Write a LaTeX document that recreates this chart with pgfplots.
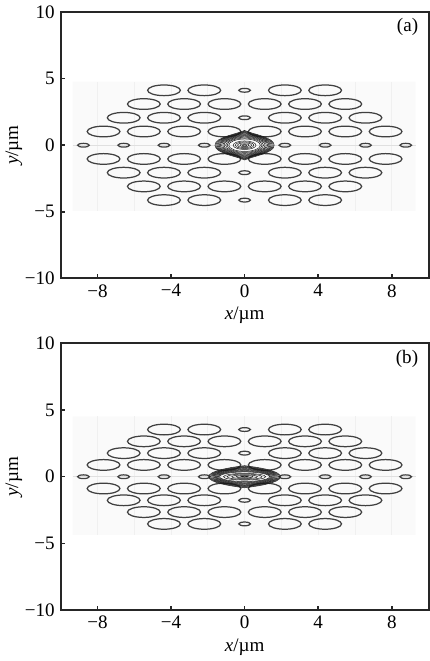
\documentclass[border=0pt]{standalone}
\usepackage{fontspec}
\setmainfont{Liberation Serif}
\usepackage{pgfplots}
\usepackage{pgfplotstable}
\pgfplotsset{compat=1.18}

% axis units in pt (axis is 222pt x 160.8pt for 20 x 20 um)
\def\xu{11.1pt}
\def\yu{8.04pt}

\pgfdeclareplotmark{bighole}{%
  \pgfpathellipse{\pgfpointorigin}{\pgfpoint{0.89*\xu}{0pt}}{\pgfpoint{0pt}{0.40*\yu}}%
  \pgfusepath{stroke}}
\pgfdeclareplotmark{smallhole}{%
  \pgfpathellipse{\pgfpointorigin}{\pgfpoint{0.315*\xu}{0pt}}{\pgfpoint{0pt}{0.14*\yu}}%
  \pgfusepath{stroke}}
% one contour line of the mode: half widths \ra, \rb (um), pointiness \rp
\pgfdeclareplotmark{cont}{%
  \pgfmathsetlengthmacro\cA{\ra*\xu}%
  \pgfmathsetlengthmacro\cB{\rb*\yu}%
  \pgfmathsetlengthmacro\cC{\ra*\xu*(0.552-0.3*\rp)}%
  \pgfmathsetlengthmacro\cD{\rb*\yu*(1-0.25*\rp)}%
  \pgfmathsetlengthmacro\cE{\rb*\yu*0.552}%
  \pgfpathmoveto{\pgfqpoint{\cA}{0pt}}%
  \pgfpathcurveto{\pgfqpoint{\cA}{\cE}}{\pgfqpoint{\cC}{\cD}}{\pgfqpoint{0pt}{\cB}}%
  \pgfpathcurveto{\pgfqpoint{-\cC}{\cD}}{\pgfqpoint{-\cA}{\cE}}{\pgfqpoint{-\cA}{0pt}}%
  \pgfpathcurveto{\pgfqpoint{-\cA}{-\cE}}{\pgfqpoint{-\cC}{-\cD}}{\pgfqpoint{0pt}{-\cB}}%
  \pgfpathcurveto{\pgfqpoint{\cC}{-\cD}}{\pgfqpoint{\cA}{-\cE}}{\pgfqpoint{\cA}{0pt}}%
  \pgfpathclose\pgfusepath{stroke}}

\pgfplotstableread{
x y a b p
0 0 0.12 0.05 0
0 0 0.25 0.11 0
0 0 0.38 0.18 0
0 0 0.50 0.25 0
0 0 0.62 0.32 0
0 0 0.86 0.47 0.05
0 0 0.95 0.54 0.1
0 0 1.03 0.61 0.2
0 0 1.11 0.68 0.3
0 0 1.18 0.74 0.4
0 0 1.25 0.80 0.5
0 0 1.32 0.86 0.6
0 0 1.38 0.92 0.7
0 0 1.44 0.97 0.8
0 0 1.50 1.02 0.9
0 0 1.56 1.07 1.0
0 0 1.61 1.11 1.0
}\modea

\pgfplotstableread{
x y a b p
0 0 0.20 0.04 0
0 0 0.45 0.09 0
0 0 0.70 0.14 0
0 0 0.95 0.20 0
0 0 1.15 0.25 0
0 0 1.36 0.36 0.05
0 0 1.42 0.41 0.1
0 0 1.48 0.46 0.15
0 0 1.54 0.51 0.2
0 0 1.60 0.56 0.3
0 0 1.66 0.61 0.35
0 0 1.72 0.66 0.4
0 0 1.78 0.70 0.5
0 0 1.84 0.74 0.55
0 0 1.90 0.79 0.6
0 0 1.95 0.83 0.6
}\modeb

\pgfplotsset{
  fibre/.style={
    width=222pt, height=160.8pt, scale only axis,
    xmin=-10, xmax=10, ymin=-10, ymax=10,
    xtick={-8,-4,0,4,8}, xticklabels={−8,−4,0,4,8},
    ytick={-10,-5,0,5,10}, yticklabels={−10,−5,0,5,10},
    tick align=inside, xtick pos=bottom, ytick pos=left,
    major tick length=2.5pt,
    axis line style={line width=1.2pt, black!85},
    tick style={line width=0.9pt, black!85},
    ticklabel style={font=\fontsize{11.5}{13}\selectfont},
    label style={font=\fontsize{11.5}{13}\selectfont},
    xlabel={{\itshape x}/µm}, ylabel={{\itshape y}/µm},
    xlabel style={at={(axis description cs:0.5,0)}, anchor=base, yshift=-25pt},
    ylabel style={at={(axis description cs:-0.127,0.5)}, anchor=center},
    clip=false,
  },
  holes/.style={only marks, draw=black!75, line width=0.75pt},
  mode/.style={scatter, only marks, mark=cont, line width=0.3pt,
    scatter/use mapped color={draw=black!90},
    point meta min=0, point meta max=1,
    visualization depends on={\thisrow{a}\as\ra},
    visualization depends on={\thisrow{b}\as\rb},
    visualization depends on={\thisrow{p}\as\rp}},
  bgfill/.style={fill=black!2, draw=none},
  bggrid/.style={ycomb, draw=black!6, line width=0.4pt},
}

\begin{document}
\begin{tikzpicture}
% ---------- (a) ----------
\begin{axis}[fibre, at={(0pt,0pt)}, anchor=north west]
\addplot[bgfill] coordinates {(-9.35,-4.93) (9.3,-4.93) (9.3,4.78) (-9.35,4.78) (-9.35,-4.93)};
\addplot[bggrid] coordinates {(-8,4.78) (-6,4.78) (-4,4.78) (-2,4.78) (0,4.78) (2,4.78) (4,4.78) (6,4.78) (8,4.78)};
\addplot[bggrid] coordinates {(-8,-4.93) (-6,-4.93) (-4,-4.93) (-2,-4.93) (0,-4.93) (2,-4.93) (4,-4.93) (6,-4.93) (8,-4.93)};
\addplot[draw=black!12, line width=0.4pt] coordinates {(-9.35,0) (9.3,0)};
\addplot[holes, mark=bighole] coordinates {
 (-7.665,1.03) (-5.475,1.03) (-3.285,1.03) (-1.095,1.03) (1.095,1.03) (3.285,1.03) (5.475,1.03) (7.665,1.03)
 (-7.665,-1.03) (-5.475,-1.03) (-3.285,-1.03) (-1.095,-1.03) (1.095,-1.03) (3.285,-1.03) (5.475,-1.03) (7.665,-1.03)
 (-6.57,2.06) (-4.38,2.06) (-2.19,2.06) (2.19,2.06) (4.38,2.06) (6.57,2.06)
 (-6.57,-2.06) (-4.38,-2.06) (-2.19,-2.06) (2.19,-2.06) (4.38,-2.06) (6.57,-2.06)
 (-5.475,3.09) (-3.285,3.09) (-1.095,3.09) (1.095,3.09) (3.285,3.09) (5.475,3.09)
 (-5.475,-3.09) (-3.285,-3.09) (-1.095,-3.09) (1.095,-3.09) (3.285,-3.09) (5.475,-3.09)
 (-4.38,4.12) (-2.19,4.12) (2.19,4.12) (4.38,4.12)
 (-4.38,-4.12) (-2.19,-4.12) (2.19,-4.12) (4.38,-4.12)};
\addplot[holes, mark=smallhole] coordinates {
 (-8.76,0) (-6.57,0) (-4.38,0) (-2.19,0) (2.19,0) (4.38,0) (6.57,0) (8.76,0)
 (0,2.06) (0,-2.06) (0,4.12) (0,-4.12)};
\addplot[mode] table {\modea};
\node[anchor=east, font=\fontsize{11.5}{13}\selectfont] at (axis cs:9.75,8.85) {(a)};
\end{axis}
% ---------- (b) ----------
\begin{axis}[fibre, at={(0pt,-200pt)}, anchor=north west]
\addplot[bgfill] coordinates {(-9.35,-4.37) (9.3,-4.37) (9.3,4.53) (-9.35,4.53) (-9.35,-4.37)};
\addplot[bggrid] coordinates {(-8,4.53) (-6,4.53) (-4,4.53) (-2,4.53) (0,4.53) (2,4.53) (4,4.53) (6,4.53) (8,4.53)};
\addplot[bggrid] coordinates {(-8,-4.37) (-6,-4.37) (-4,-4.37) (-2,-4.37) (0,-4.37) (2,-4.37) (4,-4.37) (6,-4.37) (8,-4.37)};
\addplot[draw=black!12, line width=0.4pt] coordinates {(-9.35,0) (9.3,0)};
\addplot[holes, mark=bighole] coordinates {
 (-7.665,0.885) (-5.475,0.885) (-3.285,0.885) (-1.095,0.885) (1.095,0.885) (3.285,0.885) (5.475,0.885) (7.665,0.885)
 (-7.665,-0.885) (-5.475,-0.885) (-3.285,-0.885) (-1.095,-0.885) (1.095,-0.885) (3.285,-0.885) (5.475,-0.885) (7.665,-0.885)
 (-6.57,1.77) (-4.38,1.77) (-2.19,1.77) (2.19,1.77) (4.38,1.77) (6.57,1.77)
 (-6.57,-1.77) (-4.38,-1.77) (-2.19,-1.77) (2.19,-1.77) (4.38,-1.77) (6.57,-1.77)
 (-5.475,2.655) (-3.285,2.655) (-1.095,2.655) (1.095,2.655) (3.285,2.655) (5.475,2.655)
 (-5.475,-2.655) (-3.285,-2.655) (-1.095,-2.655) (1.095,-2.655) (3.285,-2.655) (5.475,-2.655)
 (-4.38,3.54) (-2.19,3.54) (2.19,3.54) (4.38,3.54)
 (-4.38,-3.54) (-2.19,-3.54) (2.19,-3.54) (4.38,-3.54)};
\addplot[holes, mark=smallhole] coordinates {
 (-8.76,0) (-6.57,0) (-4.38,0) (-2.19,0) (2.19,0) (4.38,0) (6.57,0) (8.76,0)
 (0,1.77) (0,-1.77) (0,3.54) (0,-3.54)};
\addplot[mode] table {\modeb};
\node[anchor=east, font=\fontsize{11.5}{13}\selectfont] at (axis cs:9.75,8.85) {(b)};
\end{axis}
\end{tikzpicture}
\end{document}
